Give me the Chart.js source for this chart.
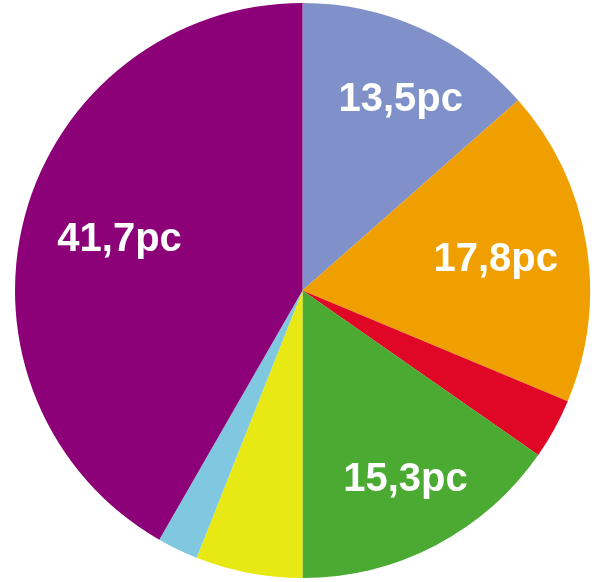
<!DOCTYPE html>
<html>
<head>
<meta charset="utf-8">
<script src="https://cdn.jsdelivr.net/npm/chart.js@4/dist/chart.umd.min.js"></script>
<style>
	html, body { margin: 0; padding: 0; background: #fff; }
	#wrap { width: 592px; height: 582px; }
</style>
</head>
<body>
<div id="wrap"><canvas id="pie"></canvas></div>
<script>
const categories = ["blue", "orange", "red", "green", "yellow", "lightblue", "purple"];
const shares = [13.5, 17.8, 3.4, 15.3, 6.0, 2.3, 41.7];
const labels = ["13,5pc", "17,8pc", "", "15,3pc", "", "", "41,7pc"];
const colours = ["#7f91c8", "#efa000", "#e00726", "#4aaa32", "#e8e814", "#80c8e0", "#8c0078"];

// where each label sits: fraction of the radius, and a small turn off the slice middle (degrees)
const labelPlace = [[0.745, 3], [0.68, 0.5], null, [0.75, -1], null, null, [0.66, 0.5]];

const sliceLabels = {
	id: "sliceLabels",
	afterDatasetsDraw(chart) {
		const ctx = chart.ctx;
		const meta = chart.getDatasetMeta(0);
		ctx.save();
		ctx.fillStyle = "#fff";
		ctx.font = "bold 40px 'Liberation Sans', Arial, sans-serif";
		ctx.textAlign = "center";
		ctx.textBaseline = "middle";
		meta.data.forEach((arc, i) => {
			if (!labels[i] || !labelPlace[i]) return;
			const { x, y, startAngle, endAngle, outerRadius } = arc.getProps(["x", "y", "startAngle", "endAngle", "outerRadius"], true);
			const [frac, turn] = labelPlace[i];
			const mid = (startAngle + endAngle) / 2 + (turn * Math.PI) / 180;
			const r = outerRadius * frac;
			ctx.fillText(labels[i], x + Math.cos(mid) * r, y + Math.sin(mid) * r);
		});
		ctx.restore();
	},
};

new Chart(document.getElementById("pie"), {
	type: "pie",
	data: {
		labels: categories,
		datasets: [
			{
				data: shares,
				backgroundColor: colours,
				borderWidth: 0,
			},
		],
	},
	options: {
		responsive: true,
		maintainAspectRatio: false,
		animation: false,
		layout: { padding: { left: 15, right: 2, top: 3, bottom: 4 } },
		plugins: {
			legend: { display: false },
			tooltip: { enabled: false },
		},
	},
	plugins: [sliceLabels],
});
</script>
</body>
</html>
